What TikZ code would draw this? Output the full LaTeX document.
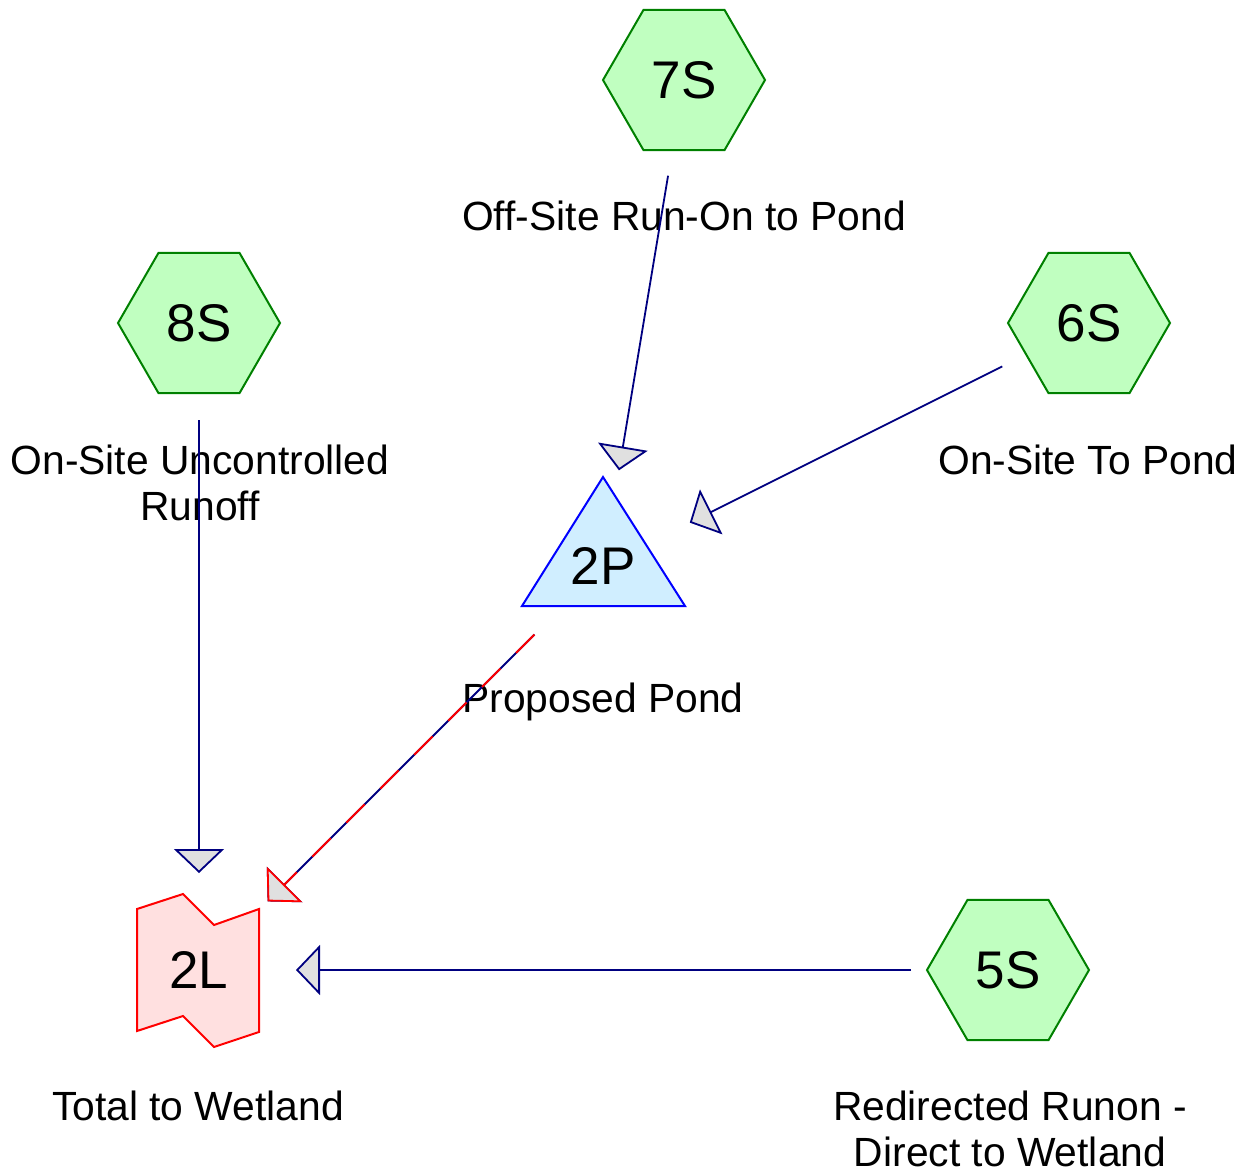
\documentclass[tikz,border=0pt]{standalone}
\usepackage{fontspec}
\setmainfont{Liberation Sans}
\usetikzlibrary{arrows.meta, shapes.geometric}

\definecolor{hexfill}{RGB}{192,255,192}
\definecolor{hexline}{RGB}{0,128,0}
\definecolor{pondfill}{RGB}{208,238,255}
\definecolor{lakefill}{RGB}{255,224,224}
\definecolor{flowline}{RGB}{0,0,128}
\definecolor{tipfill}{RGB}{224,224,224}

\begin{document}
\begin{tikzpicture}[x=0.5pt, y=-0.5pt,
    subcat/.style={regular polygon, regular polygon sides=6, minimum size=81pt,
        inner sep=0pt, draw=hexline, fill=hexfill, line width=1pt,
        font=\fontsize{26.5}{30}\selectfont},
    tag/.style={align=center, font=\fontsize{20.4}{23}\selectfont},
    flow/.style={draw=flowline, line width=0.9pt, shorten <=48.5pt, shorten >=48.5pt,
        -{Triangle[length=12pt, width=25pt, fill=tipfill]}}]
    \useasboundingbox (0,0) rectangle (1249,1175);

    % subcatchments
    \foreach \n/\x/\y in {7S/684/80, 8S/199/323, 6S/1089/323, 5S/1008/970}
        \node[subcat] (\n) at (\x,\y) {\n};

    % pond and link
    \filldraw[draw=blue, fill=pondfill, line width=1pt]
        (603,477) -- (685,606) -- (522,606) -- cycle;
    \node[font=\fontsize{26.5}{30}\selectfont] (2P) at (603,566) {2P};
    \filldraw[draw=red, fill=lakefill, line width=1pt]
        (137,909) -- (183,894) -- (214,925) -- (259,909) -- (259,1032)
        -- (214,1047) -- (183,1016) -- (137,1031) -- cycle;
    \node[font=\fontsize{26.5}{30}\selectfont] (2L) at (199,970) {2L};

    % labels
    \node[tag] (7S-tag) at (684,216) {Off-Site Run-On to Pond};
    \node[tag] (8S-tag) at (200,483) {On-Site Uncontrolled\\Runoff};
    \node[tag] (6S-tag) at (1088,460) {On-Site To Pond};
    \node[tag] (2P-tag) at (603,702) {Proposed Pond};
    \node[tag] (2L-tag) at (198,1106) {Total to Wetland};
    \node[tag] (5S-tag) at (1010,1129) {Redirected Runon -\\Direct to Wetland};

    % flows
    \draw[flow] (7S.center) -- (2P.center);
    \draw[flow] (6S.center) -- (2P.center);
    \draw[flow] (8S.center) -- (2L.center);
    \draw[flow] (5S.center) -- (2L.center);
    \draw[flow] (2P.center) -- (2L.center);
    \draw[flow, draw=red, dash pattern=on 13pt off 11pt] (2P.center) -- (2L.center);
\end{tikzpicture}
\end{document}
